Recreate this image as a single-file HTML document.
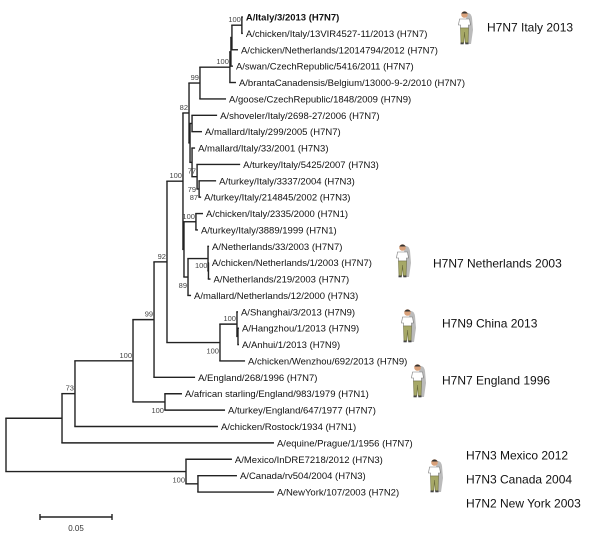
<!DOCTYPE html>
<html><head><meta charset="utf-8"><style>
html,body{margin:0;padding:0;background:#fff;}
svg{display:block;font-family:"Liberation Sans",Arial,sans-serif;}
</style></head><body>
<svg id="tree" width="600" height="538" viewBox="0 0 600 538"></svg>
<script>
// Tree data: node names, parent names, branch lengths (substitutions/site)
const nodeNames = ["root","Nq","N73","equine","N100a","Rostock","N99c","N100c","african","turkeyEng","N92","England268","Euro","H7N9","N82","Nrest","N99","Nit","N100g","goose","Na","branta","Nb","swan","NItal","chNL12","Italy3","chIt13","Nsh","shoveler","mallard299","Nm33","mallard33","N77","t5425","N79","t3337","t214845","N100f","c2335","t3889","N89","N100h","malNL","Neth33","Nc","chNL1","Neth219","N100i","Wenzhou","Shanghai","Nsub","Hangzhou","Anhui","N100j","Mexico","Ncan","Canada","NewYork"];
const parents = [null,"root","Nq","Nq","N73","N73","N100a","N100a","N100c","N100c","N99c","N99c","N92","N92","Euro","Euro","N82","N82","N99","N99","N100g","N100g","Na","Na","Nb","Nb","NItal","NItal","Nit","Nsh","Nsh","Nit","Nm33","Nm33","N77","N77","N79","N79","Nrest","N100f","N100f","Nrest","N89","N89","N100h","N100h","Nc","Nc","H7N9","H7N9","N100i","N100i","Nsub","Nsub","root","N100j","N100j","Ncan","Ncan"];
const branchLengths = [0,0.0389,0.0090,0.1472,0.0403,0.0993,0.0146,0.0222,0.0118,0.0417,0.0090,0.0285,0.0111,0.0368,0.0042,0.0007,0.0076,0.0007,0.0208,0.0181,0.0007,0.0042,0.0007,0.0014,0.0069,0.0042,0.0007,0.0007,0.0014,0.0174,0.0069,0.0014,0.0021,0.0035,0.0299,0.0014,0.0118,0.0014,0.0083,0.0049,0.0014,0.0028,0.0139,0.0021,0.0007,0.0003,0.0003,0.0014,0.0118,0.0174,0.0007,0.0007,0.0007,0.0007,0.1250,0.0319,0.0083,0.0271,0.0528];
const leafLabels = {
 Italy3:"A/Italy/3/2013 (H7N7)", chIt13:"A/chicken/Italy/13VIR4527-11/2013 (H7N7)", chNL12:"A/chicken/Netherlands/12014794/2012 (H7N7)",
 swan:"A/swan/CzechRepublic/5416/2011 (H7N7)", branta:"A/brantaCanadensis/Belgium/13000-9-2/2010 (H7N7)", goose:"A/goose/CzechRepublic/1848/2009 (H7N9)",
 shoveler:"A/shoveler/Italy/2698-27/2006 (H7N7)", mallard299:"A/mallard/Italy/299/2005 (H7N7)", mallard33:"A/mallard/Italy/33/2001 (H7N3)",
 t5425:"A/turkey/Italy/5425/2007 (H7N3)", t3337:"A/turkey/Italy/3337/2004 (H7N3)", t214845:"A/turkey/Italy/214845/2002 (H7N3)",
 c2335:"A/chicken/Italy/2335/2000 (H7N1)", t3889:"A/turkey/Italy/3889/1999 (H7N1)", Neth33:"A/Netherlands/33/2003 (H7N7)",
 chNL1:"A/chicken/Netherlands/1/2003 (H7N7)", Neth219:"A/Netherlands/219/2003 (H7N7)", malNL:"A/mallard/Netherlands/12/2000 (H7N3)",
 Shanghai:"A/Shanghai/3/2013 (H7N9)", Hangzhou:"A/Hangzhou/1/2013 (H7N9)", Anhui:"A/Anhui/1/2013 (H7N9)", Wenzhou:"A/chicken/Wenzhou/692/2013 (H7N9)",
 England268:"A/England/268/1996 (H7N7)", african:"A/african starling/England/983/1979 (H7N1)", turkeyEng:"A/turkey/England/647/1977 (H7N7)",
 Rostock:"A/chicken/Rostock/1934 (H7N1)", equine:"A/equine/Prague/1/1956 (H7N7)", Mexico:"A/Mexico/InDRE7218/2012 (H7N3)",
 Canada:"A/Canada/rv504/2004 (H7N3)", NewYork:"A/NewYork/107/2003 (H7N2)"
};
const supportNodes = ["NItal","N100g","N99","N82","Euro","N77","N79","N79","N100f","Nc","N89","N92","N100i","H7N9","N99c","N100a","N100c","N73","N100j"];
const supportValues = ["100","100","99","82","100","77","79","87","100","100","89","92","100","100","99","100","100","73","100"];
const supportPos = ["a","a","a","a","a","a","l","b","a","a","b","a","a","b","a","a","b","a","b"];
const scaleValue = 0.05;

const svg = document.getElementById('tree');
const NS = "http://www.w3.org/2000/svg";
const X0 = 6, PXU = 1440, Y0 = 17, DY = 16.38;
function mk(t, a){const e=document.createElementNS(NS,t);for(const k in a)e.setAttribute(k,a[k]);svg.appendChild(e);return e;}
const kids = {}; nodeNames.forEach(n=>kids[n]=[]);
nodeNames.forEach((n,i)=>{if(parents[i])kids[parents[i]].push(n);});
const X={},Y={}; let leafIdx=0;
function layout(n,x){X[n]=x;
 if(kids[n].length===0){Y[n]=Y0+leafIdx*DY;leafIdx++;return;}
 kids[n].forEach(c=>layout(c,x+branchLengths[nodeNames.indexOf(c)]*PXU));
 const k=kids[n];Y[n]=(Y[k[0]]+Y[k[k.length-1]])/2;}
layout("root",X0);
nodeNames.forEach(n=>{
 const k=kids[n];
 if(k.length){
  const v=mk('line',{x1:X[n],x2:X[n],y1:Y[k[0]],y2:Y[k[k.length-1]],stroke:'#222','stroke-width':1.4});
  
  
  k.forEach(c=>{
   const h=mk('line',{x1:X[n]-0.7,x2:X[c],y1:Y[c],y2:Y[c],stroke:'#222','stroke-width':1.4});
   
   
  });
 } else {
  const t=mk('text',{x:X[n]+3,y:Y[n]+3.5,'font-size':9.5,fill:'#111'});
  t.textContent=leafLabels[n];
  if(n==="Italy3")t.setAttribute('font-weight','bold');
  
  
 }
});
supportNodes.forEach((n,i)=>{
 const p=supportPos[i];
 const y=p==='a'?Y[n]-3:(p==='b'?Y[n]+11:Y[n]+3);
 const x=p==='l'?X[n]-3:X[n]-1;
 const t=mk('text',{x:x,y:y,'font-size':7.5,fill:'#444','text-anchor':'end'});
 t.textContent=supportValues[i];
 
 
});
// scale bar
const sbx=40, sby=517, sbw=scaleValue*PXU;
const sb=mk('path',{d:`M${sbx} ${sby}H${sbx+sbw}M${sbx} ${sby-3}V${sby+3}M${sbx+sbw} ${sby-3}V${sby+3}`,stroke:'#222','stroke-width':1.4,fill:'none'});


const sbt=mk('text',{x:sbx+sbw/2,y:sby+14,'font-size':8,fill:'#333','text-anchor':'middle'});
sbt.textContent=String(scaleValue);


// human figures + case labels
const figX=[457,395,400,410,427], figY=[10,243,308,363,458];
figX.forEach((fx,i)=>{
 const g=document.createElementNS(NS,'g');
 g.setAttribute('transform',`translate(${fx},${figY[i]})`);
 
 
 g.innerHTML='<path d="M9 3 Q14 2 15 8 L16 20 L14 34 L10 34 Z" fill="#bbb"/>'+
 '<circle cx="7.5" cy="4.5" r="3.3" fill="#d9a17a"/><path d="M4.3 3.5 Q7.5 -0.5 10.8 3.5 Z" fill="#333"/>'+
 '<path d="M2.5 9 H12.5 L13.5 15 L11.5 15 L11.5 18 H3.5 L3.5 15 L1.5 15 Z" fill="#fff" stroke="#777" stroke-width="0.6"/>'+
 '<path d="M3.5 18 H11.5 L11 33 H8.3 L7.5 22 L6.7 33 H4 Z" fill="#a6a867" stroke="#6d6d3d" stroke-width="0.6"/>'+
 '<rect x="3.5" y="32.5" width="3.2" height="1.8" fill="#444"/><rect x="8.3" y="32.5" width="3.2" height="1.8" fill="#444"/>';
 svg.appendChild(g);
});
const caseText=["H7N7 Italy 2013","H7N7 Netherlands 2003","H7N9 China 2013","H7N7 England 1996","H7N3 Mexico 2012","H7N3 Canada 2004","H7N2 New York 2003"];
const caseX=[487,433,442,442,466,466,466], caseY=[27,263,323,380,455,479,503];
caseText.forEach((s,i)=>{
 const t=mk('text',{x:caseX[i],y:caseY[i]+4.5,'font-size':12,fill:'#111'});
 t.textContent=s;
 
 
});
</script>
</body></html>
